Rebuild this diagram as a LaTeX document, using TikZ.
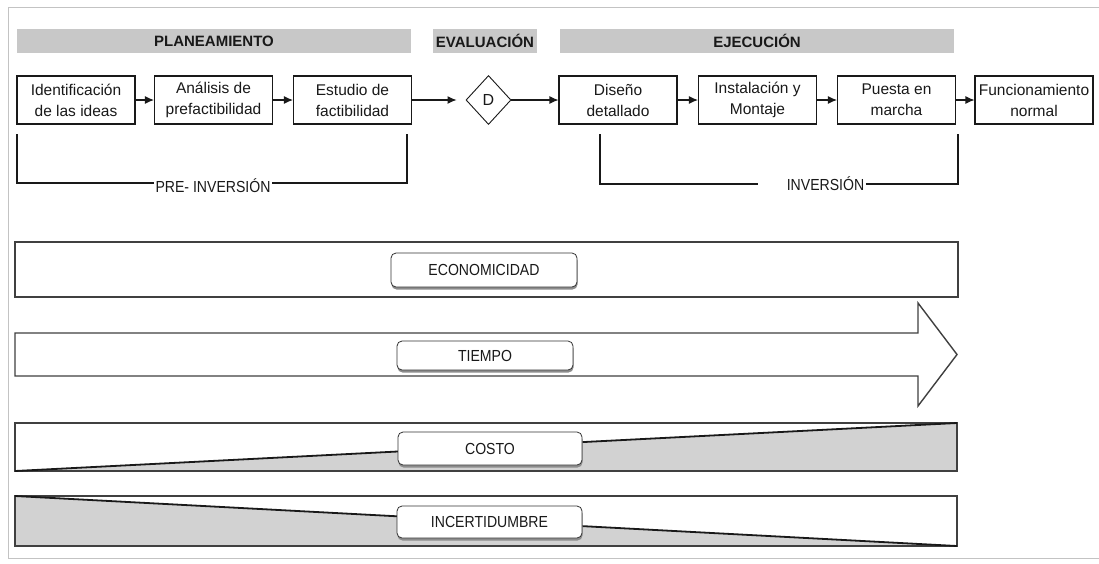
\documentclass[tikz,border=0pt]{standalone}
\usepackage{fontspec}
\setmainfont{Liberation Sans}
\newfontfamily\condfont[FakeStretch=0.88]{Liberation Sans}
\usetikzlibrary{arrows.meta,shapes.geometric,shadows}
\definecolor{hdrgray}{RGB}{200,200,200}
\definecolor{bandgray}{RGB}{210,210,210}
\definecolor{framegray}{RGB}{195,195,195}
\definecolor{ink}{RGB}{25,25,25}

\begin{document}
\begin{tikzpicture}[x=1pt,y=-1pt,
  phasebar/.style={fill=hdrgray, draw=none, minimum height=24pt, inner sep=0pt,
    text=ink, font=\bfseries\fontsize{15}{18}\selectfont},
  stagebox/.style={draw=ink, line width=1.1pt, minimum width=118pt, minimum height=48pt,
    inner sep=0pt, align=center, text=ink, font=\fontsize{15.5}{21}\selectfont},
  decision/.style={diamond, draw=ink, line width=0.9pt, minimum width=45pt,
    minimum height=49pt, inner sep=0pt, text=ink, font=\fontsize{16}{18}\selectfont},
  flow/.style={draw=ink, line width=1.1pt, -{Latex[length=9pt,width=8pt]}},
  bracketline/.style={draw=ink, line width=1.1pt},
  spanlabel/.style={inner sep=1.5pt, text=ink, font=\condfont\fontsize{16}{18}\selectfont},
  band/.style={draw=black!75, line width=1.4pt},
  slope/.style={draw=ink, line width=1.8pt},
  tag/.style={draw=black!80, fill=white, rounded corners=5pt, line width=0.8pt,
    inner sep=0pt, text=ink, font=\condfont\fontsize{16}{18}\selectfont,
    drop shadow={shadow xshift=0.5pt, shadow yshift=-2.5pt, fill=black!45, opacity=1}},
]
\useasboundingbox (0,0) rectangle (1099,563);
\fill[white] (0,0) rectangle (1099,563);

% outer frame (open on the right)
\draw[framegray, line width=1pt] (1099,7) -- (8,7) -- (8,558) -- (1099,558);

% phase headers
\node[phasebar, minimum width=394pt] (plan) at (214,41) {PLANEAMIENTO};
\node[phasebar, minimum width=104pt] (eval) at (485,41) {EVALUACIÓN};
\node[phasebar, minimum width=394pt] (ejec) at (757,41) {EJECUCIÓN};

% project stages
\node[stagebox] (b1) at (76,100) {Identificación\\de las ideas};
\node[stagebox] (b2) at (213.5,100) {Análisis de\\prefactibilidad};
\node[stagebox] (b3) at (352.5,100) {Estudio de\\factibilidad};
\node[decision] (dec) at (488.5,100) {D};
\node[stagebox] (b4) at (618,100) {Diseño\\detallado};
\node[stagebox] (b5) at (757.5,100) {Instalación y\\Montaje};
\node[stagebox] (b6) at (896.5,100) {Puesta en\\marcha};
\node[stagebox] (b7) at (1034,100) {Funcionamiento\\normal};

\draw[flow] (b1) -- (b2);
\draw[flow] (b2) -- (b3);
\draw[flow, shorten >=9pt] (b3) -- (dec);
\draw[flow] (dec) -- (b4);
\draw[flow] (b4) -- (b5);
\draw[flow] (b5) -- (b6);
\draw[flow] (b6) -- (b7);

% pre-investment bracket
\coordinate (preA) at (17,134);
\coordinate (preC) at (17,183);
\coordinate (preD) at (407,183);
\coordinate (preB) at (407,134);
\node[spanlabel] (pre) at (213,186) {PRE- INVERSIÓN};
\draw[bracketline] (preA) -- (preC) -- (pre.west |- preC);
\draw[bracketline] (pre.east |- preD) -- (preD) -- (preB);

% investment bracket
\coordinate (invA) at (600,134);
\coordinate (invC) at (600,184);
\coordinate (invL) at (758,184);
\coordinate (invD) at (958,184);
\coordinate (invB) at (958,134);
\node[spanlabel] (inv) at (825.5,184) {INVERSIÓN};
\draw[bracketline] (invA) -- (invC) -- (invL);
\draw[bracketline] (inv.east |- invD) -- (invD) -- (invB);

% economy band
\draw[band] (15,242) rectangle (958,297);
\node[tag, minimum width=186pt, minimum height=34pt] (econ) at (484,270) {ECONOMICIDAD};

% time arrow
\draw[band, line join=miter] (15,333) -- (918,333) -- (918,303) -- (957,354.5)
  -- (918,406) -- (918,376) -- (15,376) -- cycle;
\node[tag, minimum width=176pt, minimum height=29pt] (time) at (485,355.5) {TIEMPO};

% cost band: rising share
\fill[bandgray] (15,471) -- (957,423) -- (957,471) -- cycle;
\draw[band] (15,423) rectangle (957,471);
\draw[slope] (15,471) -- (957,423);
\node[tag, minimum width=184pt, minimum height=33pt] (cost) at (490,448.5) {COSTO};

% uncertainty band: falling share
\fill[bandgray] (15,496) -- (957,546) -- (15,546) -- cycle;
\draw[band] (15,496) rectangle (957,546);
\draw[slope] (15,496) -- (957,546);
\node[tag, minimum width=185pt, minimum height=32pt] (unc) at (489.5,522) {INCERTIDUMBRE};

\end{tikzpicture}
\end{document}
